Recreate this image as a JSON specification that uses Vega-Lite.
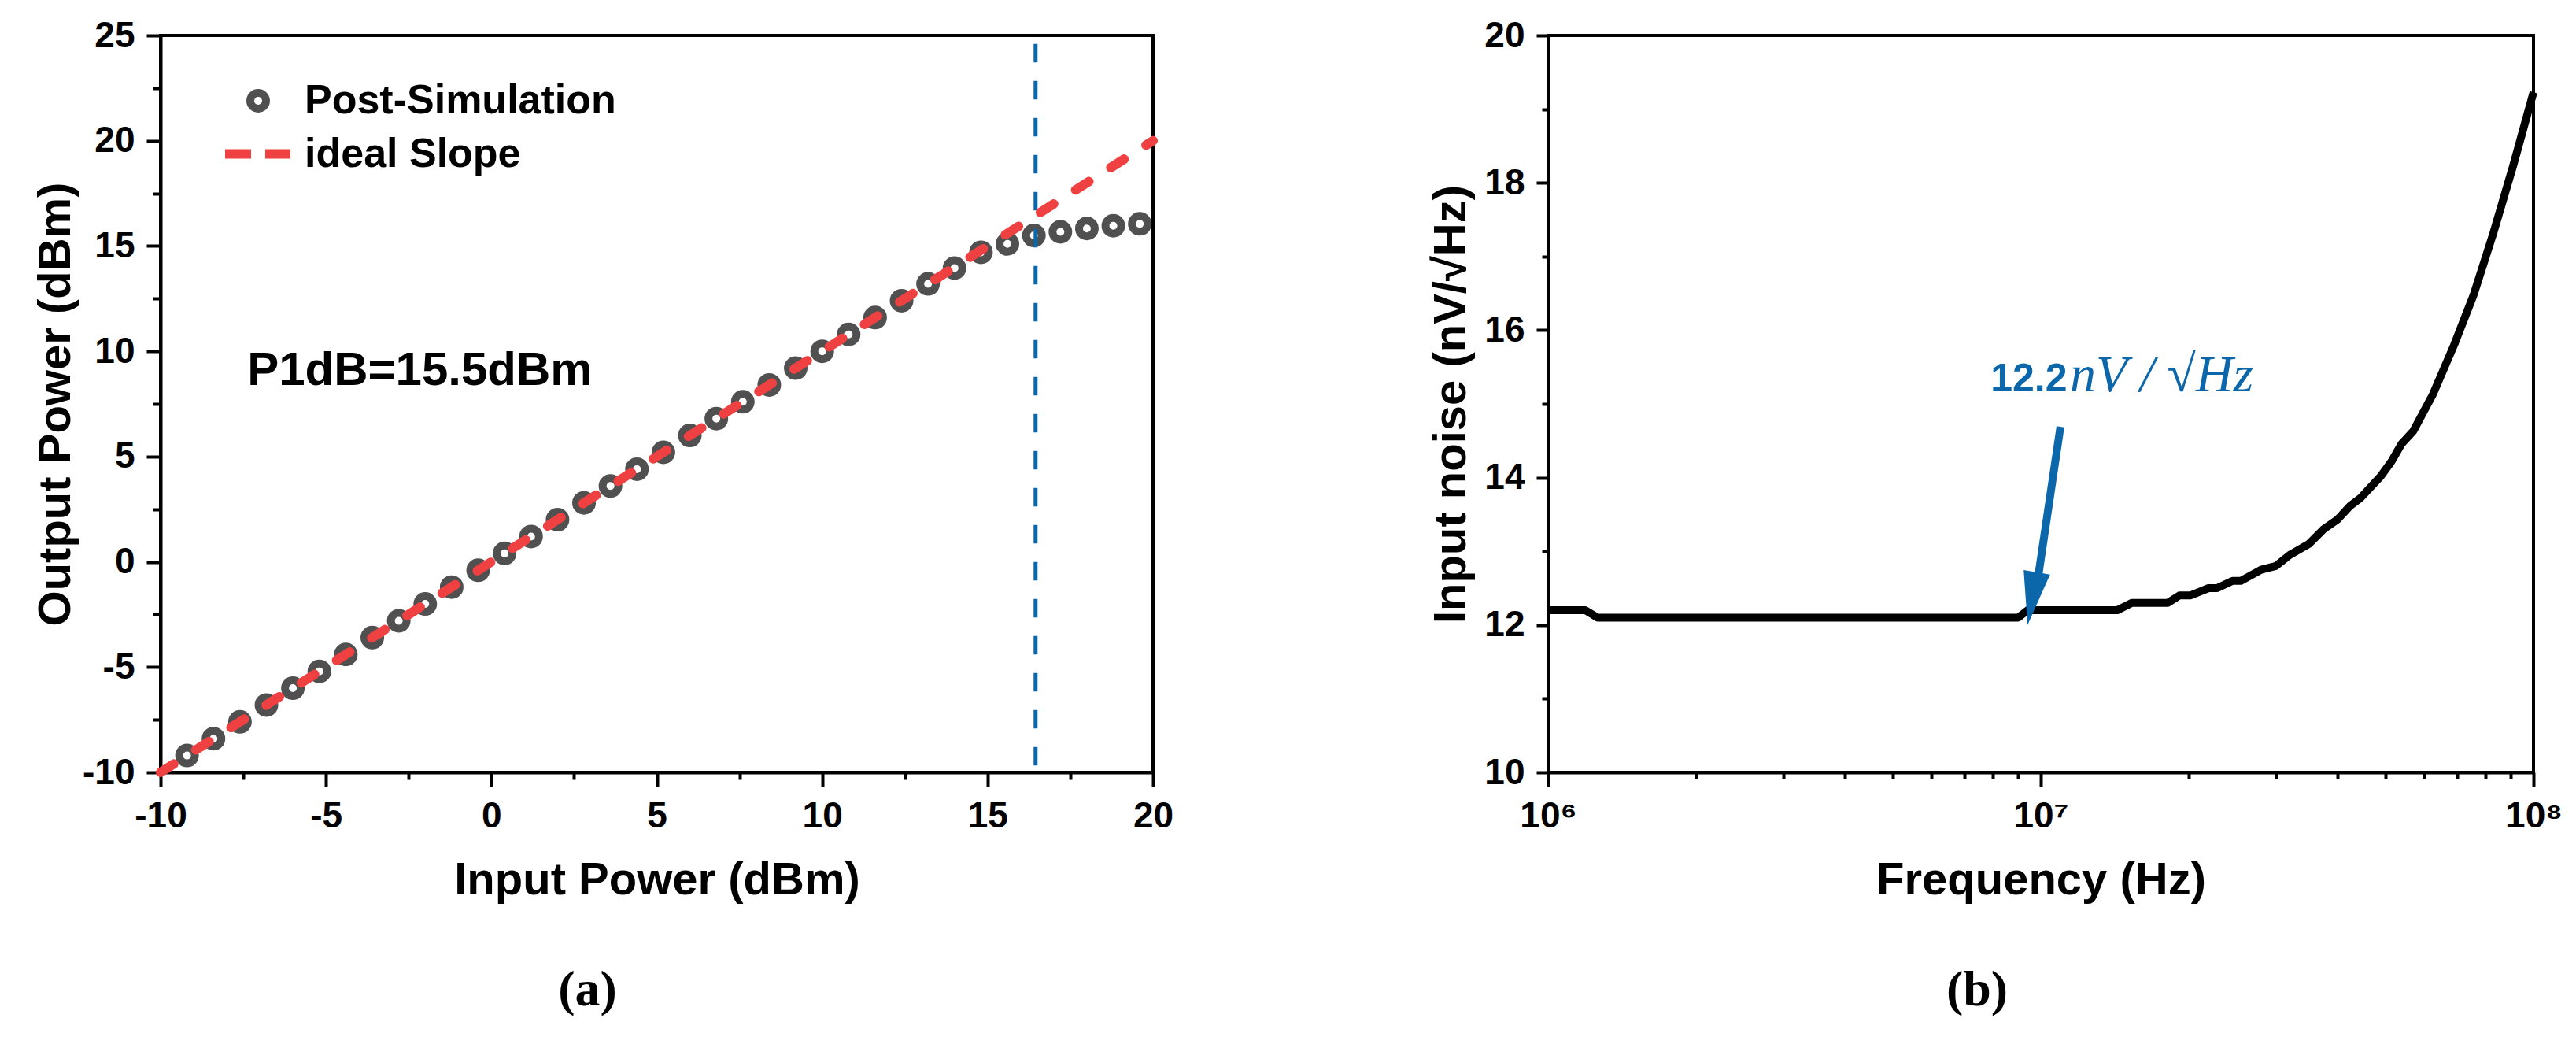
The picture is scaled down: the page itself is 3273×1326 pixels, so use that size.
{
  "$schema": "https://vega.github.io/schema/vega-lite/v6.json",
  "background": "white",
  "padding": {"left": 40, "top": 20, "right": 20, "bottom": 20},
  "spacing": 320,
  "config": {
    "font": "Liberation Sans",
    "view": {"stroke": "black", "strokeWidth": 4},
    "axis": {
      "domainColor": "black", "domainWidth": 4, "tickColor": "black", "tickWidth": 4,
      "labelFont": "Liberation Sans", "labelFontWeight": "bold", "labelFontSize": 46, "labelColor": "black",
      "titleFont": "Liberation Sans", "titleFontWeight": "bold", "titleFontSize": 58, "titleColor": "black",
      "grid": false, "labelPadding": 15, "labelFlush": false, "labelOverlap": false
    },
    "legend": {"labelFont": "Liberation Sans", "labelFontWeight": "bold", "labelFontSize": 52, "labelColor": "black", "labelLimit": 1000, "padding": 0}
  },
  "hconcat": [
    {
      "width": 1261,
      "height": 936,
      "title": {"text": "(a)", "orient": "bottom", "anchor": "middle", "font": "Liberation Serif", "fontSize": 64, "fontWeight": "bold", "color": "black", "offset": 79, "dx": -88},
      "layer": [
        {
          "data": {"values": [
            {"input": -9.2, "output": -9.2, "series": "Post-Simulation"},
            {"input": -8.4, "output": -8.4, "series": "Post-Simulation"},
            {"input": -7.6, "output": -7.6, "series": "Post-Simulation"},
            {"input": -6.8, "output": -6.8, "series": "Post-Simulation"},
            {"input": -6.0, "output": -6.0, "series": "Post-Simulation"},
            {"input": -5.2, "output": -5.2, "series": "Post-Simulation"},
            {"input": -4.4, "output": -4.4, "series": "Post-Simulation"},
            {"input": -3.6, "output": -3.6, "series": "Post-Simulation"},
            {"input": -2.8, "output": -2.8, "series": "Post-Simulation"},
            {"input": -2.0, "output": -2.0, "series": "Post-Simulation"},
            {"input": -1.2, "output": -1.2, "series": "Post-Simulation"},
            {"input": -0.4, "output": -0.4, "series": "Post-Simulation"},
            {"input": 0.4, "output": 0.4, "series": "Post-Simulation"},
            {"input": 1.2, "output": 1.2, "series": "Post-Simulation"},
            {"input": 2.0, "output": 2.0, "series": "Post-Simulation"},
            {"input": 2.8, "output": 2.8, "series": "Post-Simulation"},
            {"input": 3.6, "output": 3.6, "series": "Post-Simulation"},
            {"input": 4.4, "output": 4.4, "series": "Post-Simulation"},
            {"input": 5.2, "output": 5.2, "series": "Post-Simulation"},
            {"input": 6.0, "output": 6.0, "series": "Post-Simulation"},
            {"input": 6.8, "output": 6.8, "series": "Post-Simulation"},
            {"input": 7.6, "output": 7.6, "series": "Post-Simulation"},
            {"input": 8.4, "output": 8.4, "series": "Post-Simulation"},
            {"input": 9.2, "output": 9.2, "series": "Post-Simulation"},
            {"input": 10.0, "output": 10.0, "series": "Post-Simulation"},
            {"input": 10.8, "output": 10.8, "series": "Post-Simulation"},
            {"input": 11.6, "output": 11.6, "series": "Post-Simulation"},
            {"input": 12.4, "output": 12.4, "series": "Post-Simulation"},
            {"input": 13.2, "output": 13.2, "series": "Post-Simulation"},
            {"input": 14.0, "output": 13.95, "series": "Post-Simulation"},
            {"input": 14.8, "output": 14.7, "series": "Post-Simulation"},
            {"input": 15.6, "output": 15.1, "series": "Post-Simulation"},
            {"input": 16.4, "output": 15.5, "series": "Post-Simulation"},
            {"input": 17.2, "output": 15.67, "series": "Post-Simulation"},
            {"input": 18.0, "output": 15.83, "series": "Post-Simulation"},
            {"input": 18.8, "output": 15.96, "series": "Post-Simulation"},
            {"input": 19.6, "output": 16.05, "series": "Post-Simulation"}
          ]},
          "mark": {"type": "point", "shape": "circle", "filled": false, "size": 400, "strokeWidth": 10, "opacity": 1},
          "encoding": {
            "x": {"field": "input", "type": "quantitative", "title": "Input Power (dBm)",
              "scale": {"domain": [-10, 20], "nice": false, "zero": false},
              "axis": {"values": [-10, -7.5, -5, -2.5, 0, 2.5, 5, 7.5, 10, 12.5, 15, 17.5, 20],
                "labelExpr": "datum.value % 5 == 0 ? toString(datum.value) : ''",
                "tickSize": {"condition": {"test": "datum.value % 5 == 0", "value": 18}, "value": 9},
                "titlePadding": 30}},
            "y": {"field": "output", "type": "quantitative", "title": "Output Power (dBm)",
              "scale": {"domain": [-10, 25], "nice": false, "zero": false},
              "axis": {"values": [-10, -7.5, -5, -2.5, 0, 2.5, 5, 7.5, 10, 12.5, 15, 17.5, 20, 22.5, 25],
                "labelExpr": "datum.value % 5 == 0 ? toString(datum.value) : ''",
                "tickSize": {"condition": {"test": "datum.value % 5 == 0", "value": 18}, "value": 10},
                "titlePadding": 4}},
            "stroke": {"field": "series", "type": "nominal", "scale": {"range": ["#505050"]},
              "legend": {"title": null, "orient": "none", "legendX": 98, "legendY": 57, "symbolType": "circle", "symbolSize": 400, "symbolStrokeWidth": 10, "labelOffset": 33}}
          }
        },
        {
          "data": {"values": [{}]},
          "mark": {"type": "rule", "color": "#0b67aa", "strokeWidth": 5, "strokeDash": [23.5, 23.5]},
          "encoding": {
            "x": {"datum": 16.45, "type": "quantitative", "title": "Input Power (dBm)"},
            "y": {"datum": 24.6, "type": "quantitative", "title": "Output Power (dBm)"},
            "y2": {"datum": -10}
          }
        },
        {
          "data": {"values": [
            {"input": -10, "output": -10, "series": "ideal Slope"},
            {"input": 20, "output": 20, "series": "ideal Slope"}
          ]},
          "mark": {"type": "line", "strokeWidth": 12, "strokeCap": "round", "strokeDash": [20, 33]},
          "encoding": {
            "x": {"field": "input", "type": "quantitative", "title": "Input Power (dBm)"},
            "y": {"field": "output", "type": "quantitative", "title": "Output Power (dBm)"},
            "color": {"field": "series", "type": "nominal", "scale": {"range": ["#ef4141"]},
              "legend": {"title": null, "orient": "none", "legendX": 76, "legendY": 103, "symbolType": "stroke", "symbolSize": 6889, "symbolStrokeWidth": 12, "symbolDash": [33, 18], "labelOffset": 12}}
          }
        },
        {
          "data": {"values": [{}]},
          "mark": {"type": "text", "text": "P1dB=15.5dBm", "font": "Liberation Sans", "fontWeight": "bold", "fontSize": 60, "align": "left", "baseline": "alphabetic", "color": "black"},
          "encoding": {
            "x": {"datum": -7.38, "type": "quantitative", "title": "Input Power (dBm)"},
            "y": {"datum": 8.38, "type": "quantitative", "title": "Output Power (dBm)"}
          }
        }
      ]
    },
    {
      "width": 1252,
      "height": 936,
      "title": {"text": "(b)", "orient": "bottom", "anchor": "middle", "font": "Liberation Serif", "fontSize": 64, "fontWeight": "bold", "color": "black", "offset": 79, "dx": -81},
      "layer": [
        {
          "data": {"values": [
            {"freq": 1000000, "noise": 12.2},
            {"freq": 1190000, "noise": 12.2},
            {"freq": 1260000, "noise": 12.1},
            {"freq": 9000000, "noise": 12.1},
            {"freq": 9400000, "noise": 12.2},
            {"freq": 14300000, "noise": 12.2},
            {"freq": 15300000, "noise": 12.3},
            {"freq": 18100000, "noise": 12.3},
            {"freq": 19100000, "noise": 12.4},
            {"freq": 20100000, "noise": 12.4},
            {"freq": 21900000, "noise": 12.5},
            {"freq": 22800000, "noise": 12.5},
            {"freq": 24500000, "noise": 12.6},
            {"freq": 25500000, "noise": 12.6},
            {"freq": 28000000, "noise": 12.75},
            {"freq": 30000000, "noise": 12.8},
            {"freq": 32000000, "noise": 12.95},
            {"freq": 35000000, "noise": 13.1},
            {"freq": 37500000, "noise": 13.3},
            {"freq": 40000000, "noise": 13.43},
            {"freq": 42500000, "noise": 13.62},
            {"freq": 44500000, "noise": 13.72},
            {"freq": 49000000, "noise": 14.02},
            {"freq": 51500000, "noise": 14.22},
            {"freq": 54000000, "noise": 14.46},
            {"freq": 57000000, "noise": 14.63},
            {"freq": 62500000, "noise": 15.13},
            {"freq": 69000000, "noise": 15.8},
            {"freq": 75500000, "noise": 16.47},
            {"freq": 83000000, "noise": 17.33},
            {"freq": 91000000, "noise": 18.24},
            {"freq": 100000000, "noise": 19.23}
          ]},
          "mark": {"type": "line", "color": "black", "strokeWidth": 10, "strokeJoin": "round"},
          "encoding": {
            "x": {"field": "freq", "type": "quantitative", "title": "Frequency (Hz)",
              "scale": {"type": "log", "domain": [1000000, 100000000], "nice": false},
              "axis": {"values": [1000000, 2000000, 3000000, 4000000, 5000000, 6000000, 7000000, 8000000, 9000000, 10000000, 20000000, 30000000, 40000000, 50000000, 60000000, 70000000, 80000000, 90000000, 100000000],
                "labelExpr": "datum.value == 1000000 ? '10⁶' : datum.value == 10000000 ? '10⁷' : datum.value == 100000000 ? '10⁸' : ''",
                "tickSize": {"condition": {"test": "datum.value == 1000000 || datum.value == 10000000 || datum.value == 100000000", "value": 18}, "value": 8},
                "titlePadding": 30}},
            "y": {"field": "noise", "type": "quantitative", "title": "Input noise (nV/√Hz)",
              "scale": {"domain": [10, 20], "nice": false, "zero": false},
              "axis": {"values": [10, 11, 12, 13, 14, 15, 16, 17, 18, 19, 20],
                "labelExpr": "datum.value % 2 == 0 ? toString(datum.value) : ''",
                "tickSize": {"condition": {"test": "datum.value % 2 == 0", "value": 15}, "value": 8},
                "titlePadding": 12}}
          }
        },
        {
          "data": {"values": [{}]},
          "mark": {"type": "rule", "color": "#0b67aa", "strokeWidth": 10},
          "encoding": {
            "x": {"datum": 10960000, "type": "quantitative", "title": "Frequency (Hz)"},
            "x2": {"datum": 9850000},
            "y": {"datum": 14.69, "type": "quantitative", "title": "Input noise (nV/√Hz)"},
            "y2": {"datum": 12.6}
          }
        },
        {
          "data": {"values": [{}]},
          "mark": {"type": "point", "shape": "M0,0L-0.5,-2L0.5,-2Z", "filled": true, "color": "#0b67aa", "size": 4624, "angle": 10, "opacity": 1, "strokeWidth": 0},
          "encoding": {
            "x": {"datum": 9400000, "type": "quantitative", "title": "Frequency (Hz)"},
            "y": {"datum": 12.0, "type": "quantitative", "title": "Input noise (nV/√Hz)"}
          }
        },
        {
          "data": {"values": [{}]},
          "mark": {"type": "text", "text": "12.2", "font": "Liberation Sans", "fontWeight": "bold", "fontSize": 50, "align": "left", "baseline": "alphabetic", "color": "#0b67aa"},
          "encoding": {
            "x": {"datum": 7910000, "type": "quantitative", "title": "Frequency (Hz)"},
            "y": {"datum": 15.17, "type": "quantitative", "title": "Input noise (nV/√Hz)"}
          }
        },
        {
          "data": {"values": [{}]},
          "mark": {"type": "text", "text": "nV / √Hz", "font": "Liberation Serif", "fontStyle": "italic", "fontSize": 66, "align": "left", "baseline": "alphabetic", "color": "#0b67aa"},
          "encoding": {
            "x": {"datum": 11460000, "type": "quantitative", "title": "Frequency (Hz)"},
            "y": {"datum": 15.17, "type": "quantitative", "title": "Input noise (nV/√Hz)"}
          }
        }
      ]
    }
  ]
}
